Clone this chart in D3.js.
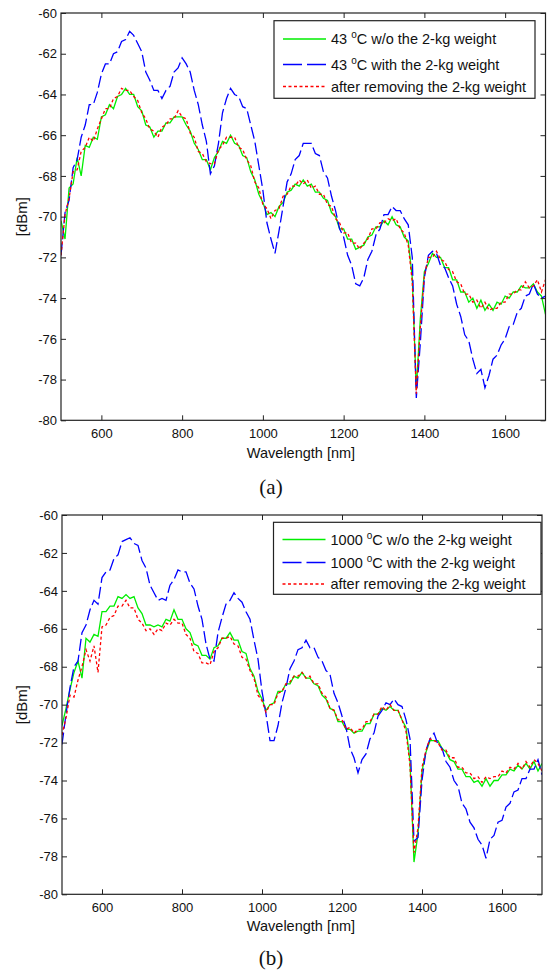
<!DOCTYPE html>
<html>
<head>
<meta charset="utf-8">
<script src="https://cdn.jsdelivr.net/npm/d3@7"></script>
<style>
  html, body { margin: 0; padding: 0; background: #fff; }
  svg { display: block; }
  text { font-family: "Liberation Sans", Arial, sans-serif; fill: #111; }
</style>
</head>
<body>
<svg id="chart" width="548" height="973"></svg>
<script>
// ---------- DATA ----------
const wavelengths = [500,510,520,530,540,550,560,570,580,590,600,610,620,630,640,650,660,670,680,690,
700,710,720,730,740,750,760,770,780,790,800,810,820,830,840,850,860,870,880,890,
900,910,920,930,940,950,960,970,980,990,1000,1010,1020,1030,1040,1050,1060,1070,1080,1090,
1100,1110,1120,1130,1140,1150,1160,1170,1180,1190,1200,1210,1220,1230,1240,1250,1260,1270,1280,1290,
1300,1310,1320,1330,1340,1350,1360,1370,1380,1390,1400,1410,1420,1430,1440,1450,1460,1470,1480,1490,
1500,1510,1520,1530,1540,1550,1560,1570,1580,1590,1600,1610,1620,1630,1640,1650,1660,1670,1680,1690,1700];

const xTicks = [600, 800, 1000, 1200, 1400, 1600];
const yTicks = [-60, -62, -64, -66, -68, -70, -72, -74, -76, -78, -80];

// Panel (a): 43 °C
const a_without = [-70.2,-71.1,-68.6,-68.4,-67.1,-68.0,-66.5,-66.6,-66.1,-66.2,-65.1,-65.0,-64.5,-64.7,-64.1,-64.0,-63.7,-64.0,-64.0,-64.6,
-64.8,-65.5,-65.6,-66.1,-65.8,-65.8,-65.4,-65.4,-65.1,-65.1,-65.1,-65.5,-65.8,-66.4,-66.7,-67.2,-67.2,-67.7,-67.1,-66.8,
-66.3,-66.4,-66.0,-66.4,-66.5,-67.0,-67.1,-67.8,-68.2,-68.9,-69.3,-69.9,-69.8,-70.0,-69.5,-69.3,-68.8,-68.7,-68.4,-68.5,
-68.2,-68.5,-68.4,-68.8,-68.8,-69.1,-69.2,-69.8,-70.0,-70.6,-70.6,-71.1,-71.1,-71.6,-71.5,-71.4,-71.0,-70.9,-70.5,-70.5,
-70.2,-70.4,-70.0,-70.4,-70.5,-71.0,-71.2,-73.0,-78.5,-75.0,-72.7,-72.3,-71.8,-72.0,-72.0,-72.5,-72.5,-73.1,-73.1,-73.7,
-73.7,-74.2,-74.0,-74.5,-74.1,-74.6,-74.3,-74.6,-74.2,-74.3,-73.9,-74.0,-73.7,-73.7,-73.4,-73.5,-73.5,-73.3,-73.7,-73.9,-74.8];

const a_with = [-71.9,-69.8,-69.2,-67.6,-67.2,-66.1,-65.5,-64.5,-64.5,-63.9,-63.0,-62.5,-62.5,-62.0,-61.9,-61.4,-61.3,-60.9,-61.1,-61.5,
-61.9,-62.9,-63.3,-63.8,-63.8,-64.2,-63.8,-63.6,-62.9,-62.7,-62.2,-62.5,-62.9,-63.8,-64.5,-65.5,-66.3,-67.9,-67.5,-66.4,
-64.9,-64.2,-63.7,-64.0,-64.1,-64.6,-64.7,-65.5,-66.3,-67.5,-68.7,-70.3,-71.1,-71.8,-70.7,-69.5,-68.3,-67.9,-67.2,-67.0,
-66.4,-66.4,-66.4,-66.9,-67.0,-67.8,-68.1,-69.0,-69.7,-70.6,-71.0,-71.9,-72.4,-73.3,-73.4,-73.0,-72.1,-71.7,-70.9,-70.6,
-69.9,-69.9,-69.5,-69.7,-69.7,-70.1,-70.4,-72.0,-78.9,-76.2,-73.0,-71.9,-71.7,-71.8,-72.4,-72.5,-73.0,-73.4,-74.3,-74.9,
-75.8,-76.1,-77.0,-77.7,-77.5,-78.4,-77.8,-77.0,-76.8,-76.3,-76.0,-75.4,-75.3,-74.7,-74.5,-73.9,-73.8,-73.3,-73.8,-74.0,-73.9];

const a_after = [-71.9,-69.9,-69.1,-67.8,-67.7,-66.8,-66.6,-66.1,-66.3,-65.7,-65.2,-64.7,-64.7,-64.2,-64.1,-63.7,-63.8,-63.8,-64.1,-64.3,
-64.9,-65.2,-65.7,-65.8,-66.1,-65.6,-65.5,-65.2,-65.2,-64.8,-65.1,-65.2,-65.9,-66.1,-66.8,-66.9,-67.3,-67.4,-67.4,-66.7,
-66.5,-66.1,-66.1,-66.1,-66.6,-66.7,-67.2,-67.5,-68.3,-68.6,-69.4,-69.6,-70.1,-69.7,-69.6,-69.0,-68.9,-68.5,-68.5,-68.2,
-68.4,-68.2,-68.6,-68.5,-68.9,-68.9,-69.4,-69.5,-70.1,-70.3,-70.8,-70.8,-71.3,-71.3,-71.6,-71.3,-71.1,-70.6,-70.6,-70.3,
-70.3,-70.1,-70.2,-70.1,-70.6,-70.8,-71.4,-73.2,-78.7,-75.4,-72.9,-72.0,-72.0,-71.7,-72.1,-72.2,-72.6,-72.7,-73.2,-73.3,
-73.8,-73.8,-74.2,-74.1,-74.5,-74.2,-74.6,-74.5,-74.5,-74.2,-74.2,-73.8,-73.8,-73.6,-73.6,-73.2,-73.5,-73.4,-73.1,-73.7,-73.1];

// Panel (b): 1000 °C
const b_without = [-71.1,-70.2,-69.2,-68.3,-67.7,-68.6,-66.5,-66.7,-66.3,-66.4,-65.1,-65.1,-64.8,-64.8,-64.3,-64.4,-64.2,-64.4,-64.3,-64.9,
-65.2,-65.8,-65.8,-65.9,-65.8,-65.9,-65.5,-65.6,-65.0,-65.5,-65.5,-66.0,-66.2,-66.8,-66.9,-67.4,-67.4,-67.6,-67.0,-66.9,
-66.5,-66.5,-66.2,-66.6,-66.6,-67.2,-67.3,-68.1,-68.5,-69.3,-69.7,-70.3,-70.0,-69.9,-69.3,-69.3,-68.9,-68.9,-68.5,-68.6,
-68.3,-68.6,-68.6,-68.9,-69.0,-69.5,-69.7,-70.2,-70.3,-70.9,-70.9,-71.3,-71.3,-71.5,-71.4,-71.4,-71.0,-71.0,-70.5,-70.5,
-70.2,-70.3,-70.1,-70.3,-70.3,-70.8,-71.2,-73.0,-78.3,-76.8,-73.5,-72.5,-71.9,-71.9,-71.9,-72.3,-72.5,-72.9,-73.0,-73.4,
-73.4,-73.8,-73.8,-74.1,-74.0,-74.3,-73.9,-74.3,-74.0,-74.0,-73.7,-73.7,-73.4,-73.5,-73.2,-73.4,-73.1,-73.4,-73.0,-73.5,-73.1];

const b_with = [-72.1,-70.5,-69.1,-68.0,-67.7,-66.2,-65.8,-65.0,-64.5,-64.7,-63.3,-63.0,-62.9,-62.3,-62.1,-61.4,-61.3,-61.2,-61.5,-61.6,
-62.4,-62.8,-63.7,-64.1,-64.5,-64.4,-64.5,-63.7,-63.4,-62.9,-63.0,-63.0,-63.6,-63.9,-64.8,-65.5,-66.8,-67.6,-67.7,-66.2,
-65.4,-64.7,-64.5,-64.1,-64.4,-64.6,-65.1,-65.5,-66.6,-67.6,-69.3,-70.5,-71.9,-71.9,-71.1,-69.9,-69.1,-68.1,-67.7,-67.1,
-67.0,-66.6,-67.0,-67.0,-67.5,-67.7,-68.2,-68.4,-69.4,-69.9,-70.6,-71.2,-72.3,-72.8,-73.6,-72.9,-72.6,-71.8,-71.5,-70.6,
-70.3,-69.9,-70.0,-69.7,-70.0,-70.1,-70.8,-71.8,-77.2,-77.0,-74.0,-72.4,-71.8,-71.5,-72.1,-72.3,-73.0,-73.3,-74.0,-74.3,
-75.2,-75.5,-76.2,-76.5,-77.1,-77.4,-78.1,-77.1,-76.9,-76.2,-76.1,-75.4,-75.2,-74.6,-74.5,-73.9,-73.9,-73.4,-73.4,-72.9,-73.7];

const b_after = [-71.6,-70.7,-69.5,-69.6,-68.7,-68.0,-67.1,-67.7,-66.9,-68.3,-65.9,-65.8,-65.4,-65.3,-64.8,-64.8,-64.5,-64.9,-64.9,-65.5,
-65.7,-66.1,-66.0,-66.3,-66.0,-66.1,-65.7,-65.8,-65.5,-65.7,-65.7,-66.3,-66.5,-67.2,-67.3,-67.8,-67.8,-67.9,-67.2,-67.0,
-66.5,-66.5,-66.4,-66.8,-66.9,-67.5,-67.6,-68.2,-68.6,-69.5,-69.8,-70.4,-70.0,-70.0,-69.4,-69.3,-68.9,-68.8,-68.5,-68.5,
-68.3,-68.6,-68.5,-68.9,-68.9,-69.4,-69.6,-70.2,-70.3,-70.8,-70.8,-71.3,-71.2,-71.5,-71.3,-71.3,-70.9,-70.9,-70.5,-70.5,
-70.1,-70.3,-70.0,-70.3,-70.3,-70.8,-71.4,-73.2,-77.8,-76.5,-73.3,-72.4,-71.8,-71.9,-72.0,-72.4,-72.4,-72.8,-72.8,-73.3,
-73.3,-73.6,-73.6,-73.9,-73.8,-74.1,-73.8,-73.9,-73.8,-73.8,-73.5,-73.6,-73.3,-73.4,-73.1,-73.4,-73.0,-73.3,-72.9,-73.1,-73.5];

const legendA = ["43 |C w/o the 2-kg weight", "43 |C with the 2-kg weight", "after removing the 2-kg weight"];
const legendB = ["1000 |C w/o the 2-kg weight", "1000 |C with the 2-kg weight", "after removing the 2-kg weight"];

// ---------- STYLES ----------
const styles = [
  { color: "#00ee00", dash: null },
  { color: "#0000ff", dash: "12,4" },
  { color: "#ff0000", dash: "3,2.5" }
];

const svg = d3.select("#chart");

function drawPanel(cfg) {
  const x = d3.scaleLinear().domain([500, 1700]).range([cfg.left, cfg.right]);
  const y = d3.scaleLinear().domain([-80, -60]).range([cfg.bottom, cfg.top]);
  const g = svg.append("g");

  const tick = 5;
  const fmt = d => String(d);
  const xb = d3.axisBottom(x).tickValues(xTicks).tickFormat(fmt).tickSizeInner(-tick).tickSizeOuter(0).tickPadding(8);
  const xt = d3.axisTop(x).tickValues(xTicks).tickSizeInner(-tick).tickSizeOuter(0).tickFormat("");
  const yl = d3.axisLeft(y).tickValues(yTicks).tickFormat(fmt).tickSizeInner(-tick).tickSizeOuter(0).tickPadding(4);
  const yr = d3.axisRight(y).tickValues(yTicks).tickSizeInner(-tick).tickSizeOuter(0).tickFormat("");

  const clipId = "clip" + cfg.id;
  svg.append("clipPath").attr("id", clipId).append("rect")
    .attr("x", cfg.left).attr("y", cfg.top)
    .attr("width", cfg.right - cfg.left).attr("height", cfg.bottom - cfg.top);

  const line = d3.line().x((d, i) => x(wavelengths[i])).y(d => y(d));
  const lg = g.append("g").attr("clip-path", `url(#${clipId})`);
  cfg.series.forEach((s, i) => {
    lg.append("path").datum(s)
      .attr("d", line)
      .attr("fill", "none")
      .attr("stroke", styles[i].color)
      .attr("stroke-width", 1.3)
      .attr("stroke-dasharray", styles[i].dash);
  });

  const axG = [
    g.append("g").attr("transform", `translate(0,${cfg.bottom})`).call(xb),
    g.append("g").attr("transform", `translate(0,${cfg.top})`).call(xt),
    g.append("g").attr("transform", `translate(${cfg.left},0)`).call(yl),
    g.append("g").attr("transform", `translate(${cfg.right},0)`).call(yr)
  ];
  axG.forEach(a => {
    a.select(".domain").remove();
    a.selectAll("line").attr("stroke", "#222");
    a.selectAll("text").style("font-size", "13px").attr("fill", "#111")
      .style("font-family", "'Liberation Sans', Arial, sans-serif");
  });

  g.append("rect").attr("x", cfg.left).attr("y", cfg.top)
    .attr("width", cfg.right - cfg.left).attr("height", cfg.bottom - cfg.top)
    .attr("fill", "none").attr("stroke", "#222").attr("stroke-width", 1.2);

  g.append("text").attr("x", 301).attr("y", cfg.xLabelY)
    .attr("text-anchor", "middle").style("font-size", "14.5px").text("Wavelength [nm]");
  g.append("text")
    .attr("transform", `translate(27,${(cfg.top + cfg.bottom) / 2}) rotate(-90)`)
    .attr("text-anchor", "middle").style("font-size", "15px").text("[dBm]");

  g.append("text").attr("x", 271).attr("y", cfg.captionY)
    .attr("text-anchor", "middle")
    .style("font-family", "'Liberation Serif', 'Times New Roman', serif")
    .style("font-size", "21px").text(cfg.caption);

  const L = cfg.legend;
  g.append("rect").attr("x", L.x0).attr("y", L.y0)
    .attr("width", L.x1 - L.x0).attr("height", L.y1 - L.y0)
    .attr("fill", "#fff").attr("stroke", "#222").attr("stroke-width", 1.2);
  L.rows.forEach((ry, i) => {
    g.append("line").attr("x1", L.x0 + 9).attr("x2", L.x0 + 52)
      .attr("y1", ry).attr("y2", ry)
      .attr("stroke", styles[i].color).attr("stroke-width", 1.3)
      .attr("stroke-dasharray", i === 1 ? "19,5" : styles[i].dash);
    const label = cfg.labels[i];
    const t = g.append("text").attr("x", L.x0 + 57).attr("y", ry + 5).style("font-size", "14.5px");
    if (label.includes("|")) {
      const [pre, post] = label.split("|");
      t.append("tspan").text(pre);
      t.append("tspan").attr("dy", -6).style("font-size", "10px").text("o");
      t.append("tspan").attr("dy", 6).text(post);
    } else {
      t.text(label);
    }
  });
}

drawPanel({
  id: "a", left: 61, right: 545.5, top: 13, bottom: 420.3,
  series: [a_without, a_with, a_after], labels: legendA,
  caption: "(a)", captionY: 494, xLabelY: 458,
  legend: { x0: 274, x1: 535, y0: 20.7, y1: 98.3, rows: [39, 64.5, 86.5] }
});

drawPanel({
  id: "b", left: 62, right: 542, top: 515, bottom: 894.3,
  series: [b_without, b_with, b_after], labels: legendB,
  caption: "(b)", captionY: 965, xLabelY: 930.5,
  legend: { x0: 273.5, x1: 541, y0: 522.3, y1: 594.3, rows: [539.5, 562.5, 584] }
});
</script>
</body>
</html>
